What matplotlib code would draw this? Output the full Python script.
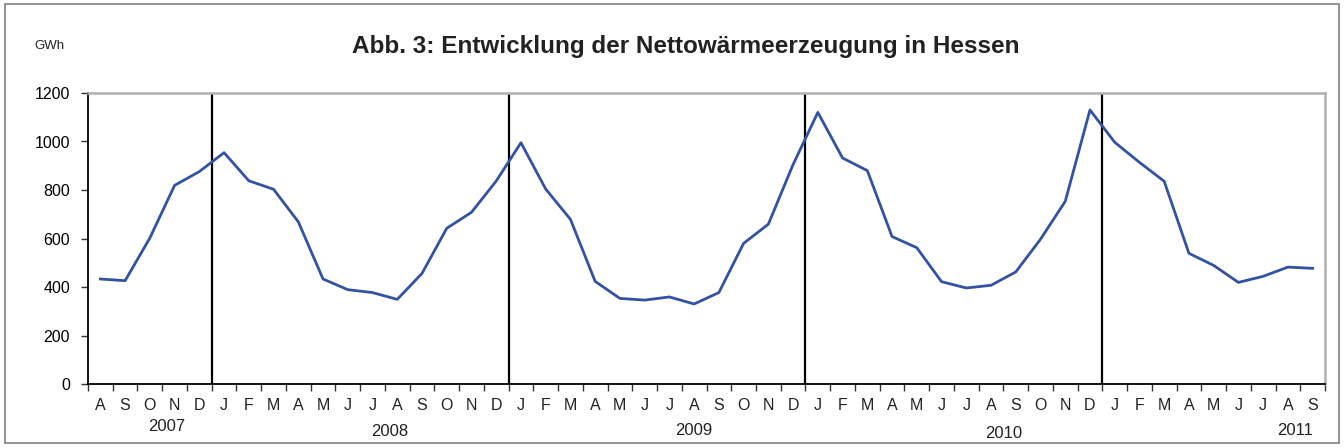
import matplotlib
matplotlib.use("Agg")
import matplotlib.pyplot as plt
from matplotlib.patches import Rectangle
import numpy as np

plt.rcParams['font.family'] = ['Liberation Sans', 'DejaVu Sans']

month_labels = ["A", "S", "O", "N", "D",
                "J", "F", "M", "A", "M", "J", "J", "A", "S", "O", "N", "D",
                "J", "F", "M", "A", "M", "J", "J", "A", "S", "O", "N", "D",
                "J", "F", "M", "A", "M", "J", "J", "A", "S", "O", "N", "D",
                "J", "F", "M", "A", "M", "J", "J", "A", "S"]
values = [433, 426, 602, 819, 876,
          954, 838, 803, 669, 433, 389, 377, 349, 456, 642, 708, 837,
          995, 804, 679, 423, 353, 346, 359, 330, 377, 580, 659, 905,
          1120, 932, 880, 608, 562, 422, 396, 407, 462, 597, 753, 1130,
          997, 914, 836, 539, 489, 419, 444, 482, 477]
years = ["2007", "2008", "2009", "2010", "2011"]
year_pos = [2.7, 11.7, 24.0, 36.5, 48.3]
year_y = [-175, -195, -190, -203, -190]
year_breaks = [4.5, 16.5, 28.5, 40.5]
yticks = [0, 200, 400, 600, 800, 1000, 1200]

fig = plt.figure(figsize=(13.44, 4.48), dpi=100)
fig.patches.append(Rectangle((0.004, 0.012), 0.992, 0.978, transform=fig.transFigure,
                             fill=False, edgecolor='#808080', linewidth=1.2))
ax = fig.add_axes([88/1344, 1 - 384/448, (1325-88)/1344, (384-93)/448])

x = np.arange(len(values))
ax.plot(x, values, color='#3352A3', linewidth=2.0, zorder=3)
for b in year_breaks:
    ax.plot([b, b], [0, 1200], color='black', linewidth=1.6, zorder=2)

ax.set_xlim(-0.5, len(values) - 0.5)
ax.set_ylim(0, 1200)
ax.set_yticks(yticks)
ax.set_yticklabels([str(v) for v in yticks], fontsize=11.5)
ax.set_xticks(np.arange(-0.5, len(values), 1.0))
ax.set_xticklabels([])
ax.tick_params(axis='x', direction='out', length=5, width=1, color='#333333')
ax.tick_params(axis='y', direction='out', length=5, width=1, color='#333333', pad=8)
for i, lab in enumerate(month_labels):
    ax.text(i, -88, lab, ha='center', va='center', fontsize=11.5, color='#222222')
for p, yy, yl in zip(year_pos, year_y, years):
    ax.text(p, yy, yl, ha='center', va='center', fontsize=12, color='#222222')

ax.spines['left'].set_color('black')
ax.spines['bottom'].set_color('black')
ax.spines['left'].set_linewidth(1.3)
ax.spines['bottom'].set_linewidth(1.3)
ax.spines['top'].set_color('#b0b0b0')
ax.spines['right'].set_color('#b0b0b0')
ax.spines['top'].set_linewidth(1.8)
ax.spines['right'].set_linewidth(1.8)

fig.text(686/1344, 1 - 46/448, "Abb. 3: Entwicklung der Nettowärmeerzeugung in Hessen",
         ha='center', va='center', fontsize=17.5, fontweight='bold', color='#222222')
fig.text(49/1344, 1 - 46/448, "GWh", ha='center', va='center', fontsize=9.5, color='#222222')

fig.savefig("out.png", dpi=100)
